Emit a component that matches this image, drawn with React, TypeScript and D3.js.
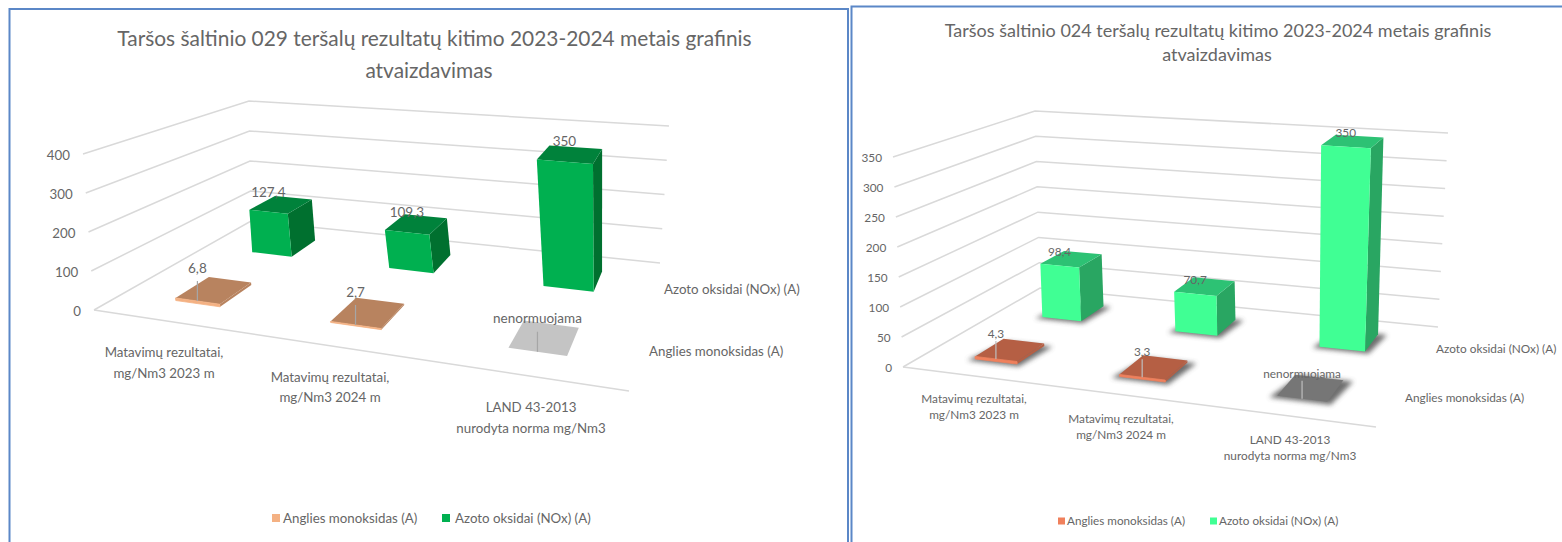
import React from "react";
import * as d3 from "d3";

const categories = ["cat2023", "cat2024", "catNorm"];
const seriesKeys = ["co", "nox"];

const leftCO = [6.8, 2.7, 0];
const leftNOx = [127.4, 109.3, 350];
const leftCOLabels = ["6,8", "2,7", "nenormuojama"];
const leftNOxLabels = ["127,4", "109,3", "350"];
const leftTicks = [0, 100, 200, 300, 400];

const rightCO = [4.3, 3.3, 0];
const rightNOx = [98.4, 70.7, 350];
const rightCOLabels = ["4,3", "3,3", "nenormuojama"];
const rightNOxLabels = ["98,4", "70,7", "350"];
const rightTicks = [0, 50, 100, 150, 200, 250, 300, 350];

const FONT = "Lato, 'Open Sans', sans-serif";
const TXT = "#666666";
const GRID = "#d9d9d9";

type P = [number, number];

function squareToQuad(p00: P, p10: P, p11: P, p01: P) {
  const [x0, y0] = p00, [x1, y1] = p10, [x2, y2] = p11, [x3, y3] = p01;
  const sx = x0 - x1 + x2 - x3, sy = y0 - y1 + y2 - y3;
  const dx1 = x1 - x2, dx2 = x3 - x2, dy1 = y1 - y2, dy2 = y3 - y2;
  const den = dx1 * dy2 - dx2 * dy1;
  const g = (sx * dy2 - dx2 * sy) / den, h = (dx1 * sy - sx * dy1) / den;
  const a = x1 - x0 + g * x1, b = x3 - x0 + h * x3, c = x0;
  const d = y1 - y0 + g * y1, e = y3 - y0 + h * y3, f = y0;
  return (u: number, v: number): P => {
    const w = g * u + h * v + 1;
    return [(a * u + b * v + c) / w, (d * u + e * v + f) / w];
  };
}

const line = d3.line();
const poly = (pts: P[]) => line(pts) + "Z";

interface Cfg {
  floor: P[]; // FL FR BR BL
  top: P[];
  uShift: number;
  co: number[]; nox: number[]; coLabels: string[]; noxLabels: string[];
  ticks: number[];
  colors: { coFront: string; coTop: string; grayTop: string; noxFront: string; noxTop: string; noxSide: string; leader: string };
  shadow: boolean;
  title: { lines: string[]; x: number[]; y: number[]; size: number };
  fontSize: number; dataSize: number; tickOffset: number; tickDy: number;
  noxLabelDy: number; coLabelDy: number; leaderUp: number;
  catLabels: { x: number; y: number[]; lines: string[] }[];
  serLabels: { x: number; y: number; text: string }[];
  legend: { sq: number; y: number; size: number; items: { x: number; tx: number; text: string; color: string }[] };
}

function Chart({ c }: { c: Cfg }) {
  const H0 = squareToQuad(c.floor[0], c.floor[1], c.floor[2], c.floor[3]);
  const H1 = squareToQuad(c.top[0], c.top[1], c.top[2], c.top[3]);
  const wy = d3.scaleLinear().domain(d3.extent(c.ticks) as [number, number]).range([0, 1]);
  const uS = d3.scaleBand<string>().domain(categories).range([c.uShift, 1 + c.uShift]).paddingInner(0.7).paddingOuter(0.35);
  const vS = d3.scaleBand<string>().domain(seriesKeys).range([0, 1]).paddingInner(0.6).paddingOuter(0.3);
  const pr = (u: number, v: number, val: number): P => {
    const a = H0(u, v), b = H1(u, v), t = wy(val);
    return [a[0] + (b[0] - a[0]) * t, a[1] + (b[1] - a[1]) * t];
  };
  const box = (cat: string, ser: string, val: number) => {
    const u0 = uS(cat)!, u1 = u0 + uS.bandwidth();
    const v0 = vS(ser)!, v1 = v0 + vS.bandwidth();
    return {
      front: [pr(u0, v0, 0), pr(u1, v0, 0), pr(u1, v0, val), pr(u0, v0, val)] as P[],
      side: [pr(u1, v0, 0), pr(u1, v1, 0), pr(u1, v1, val), pr(u1, v0, val)] as P[],
      top: [pr(u0, v0, val), pr(u1, v0, val), pr(u1, v1, val), pr(u0, v1, val)] as P[],
      shadow: [pr(u0 - 0.012, v0 - 0.02, 0), pr(u1 + 0.01, v0 - 0.02, 0), pr(u1 + 0.02, v1, 0), pr(u0 + 0.01, v1, 0)] as P[],
      anchor: pr((u0 + u1) / 2, v0, val),
    };
  };
  const fid = c.shadow ? "blurR" : "";
  return (
    <g fontFamily={FONT}>
      {c.shadow && (
        <defs>
          <filter id="blurR" x="-30%" y="-30%" width="160%" height="160%">
            <feGaussianBlur stdDeviation="2.6" />
          </filter>
        </defs>
      )}
      <text textAnchor="middle" fontSize={c.title.size} fill={TXT}>
        {c.title.lines.map((l, i) => (
          <tspan key={i} x={c.title.x[i]} y={c.title.y[i]}>{l}</tspan>
        ))}
      </text>
      {c.ticks.map((t) => (
        <g key={t}>
          <path d={line([pr(0, 0, t), pr(0, 1, t), pr(1, 1, t)])!} fill="none" stroke={GRID} strokeWidth={1.5} />
          <text x={pr(0, 0, t)[0] - c.tickOffset} y={pr(0, 0, t)[1] + c.tickDy} dy="0.35em" textAnchor="end" fontSize={c.fontSize} fill={TXT}>{t}</text>
        </g>
      ))}
      <path d={line([pr(0, 0, 0), pr(1, 0, 0)])!} fill="none" stroke={GRID} strokeWidth={1.5} />
      {c.shadow && seriesKeys.flatMap((s, si) =>
        categories.map((cat, i) => {
          const val = (si === 0 ? c.co : c.nox)[i];
          return <path key={s + cat} d={poly(box(cat, s, val).shadow)} fill="#4a4a4a" opacity={0.8} filter={`url(#${fid})`} />;
        })
      )}
      {categories.map((cat, i) => {
        const b = box(cat, "nox", c.nox[i]);
        return (
          <g key={cat}>
            <path d={poly(b.side)} fill={c.colors.noxSide} />
            <path d={poly(b.top)} fill={c.colors.noxTop} />
            <path d={poly(b.front)} fill={c.colors.noxFront} />
          </g>
        );
      })}
      {categories.map((cat, i) => {
        const b = box(cat, "co", c.co[i]);
        const gray = c.co[i] === 0;
        const tp = b.anchor;
        return (
          <g key={cat}>
            <path d={poly(b.top)} fill={gray ? c.colors.grayTop : c.colors.coTop} />
            {!gray && <path d={poly(b.side)} fill={c.colors.coTop} />}
            {!gray && <path d={poly(b.front)} fill={c.colors.coFront} stroke={c.colors.coFront} strokeWidth={0.8} />}
            <line x1={tp[0]} y1={tp[1]} x2={tp[0]} y2={tp[1] - c.leaderUp} stroke={c.colors.leader} strokeWidth={1.2} />
          </g>
        );
      })}
      {categories.map((cat, i) => {
        const a = box(cat, "nox", c.nox[i]).anchor;
        return <text key={cat} x={a[0]} y={a[1] + c.noxLabelDy} dy="0.35em" textAnchor="middle" fontSize={c.dataSize} fill={TXT}>{c.noxLabels[i]}</text>;
      })}
      {categories.map((cat, i) => {
        const a = box(cat, "co", c.co[i]).anchor;
        return <text key={cat} x={a[0]} y={a[1] + c.coLabelDy} dy="0.35em" textAnchor="middle" fontSize={c.dataSize} fill={TXT}>{c.coLabels[i]}</text>;
      })}
      {c.catLabels.map((l, i) => (
        <text key={i} textAnchor="middle" fontSize={c.fontSize} fill={TXT}>
          {l.lines.map((t, j) => <tspan key={j} x={l.x} y={l.y[j]} dy="0.35em">{t}</tspan>)}
        </text>
      ))}
      {c.serLabels.map((l, i) => (
        <text key={i} x={l.x} y={l.y} dy="0.35em" fontSize={c.fontSize} fill={TXT}>{l.text}</text>
      ))}
      {c.legend.items.map((it, i) => (
        <g key={i}>
          <rect x={it.x} y={c.legend.y - c.legend.sq / 2} width={c.legend.sq} height={c.legend.sq} fill={it.color} />
          <text x={it.tx} y={c.legend.y} dy="0.35em" fontSize={c.legend.size} fill={TXT}>{it.text}</text>
        </g>
      ))}
    </g>
  );
}

const COL = ["Matavimų rezultatai,", "mg/Nm3 2023 m"];
const COL2 = ["Matavimų rezultatai,", "mg/Nm3 2024 m"];
const COL3 = ["LAND 43-2013", "nurodyta norma mg/Nm3"];
const NOX = "Azoto oksidai (NOx) (A)";
const CO = "Anglies monoksidas (A)";

const leftCfg: Cfg = {
  floor: [[94, 310], [629, 391], [660, 263], [251, 221]],
  top: [[83, 154], [640, 222], [669, 126], [249, 101]],
  uShift: 0.006,
  co: leftCO, nox: leftNOx, coLabels: leftCOLabels, noxLabels: leftNOxLabels, ticks: leftTicks,
  colors: { coFront: "#f4b183", coTop: "#b8835f", grayTop: "#c4c4c4", noxFront: "#00b050", noxTop: "#00823b", noxSide: "#00702f", leader: "#a6a6a6" },
  shadow: false,
  title: { lines: ["Taršos šaltinio 029 teršalų rezultatų kitimo 2023-2024 metais grafinis", "atvaizdavimas"], x: [434.5, 429], y: [46, 78], size: 20.9 },
  fontSize: 13.3, dataSize: 13.5, tickOffset: 13, tickDy: 1.5,
  noxLabelDy: -20, coLabelDy: -33, leaderUp: 20,
  catLabels: [
    { x: 164, y: [352, 373], lines: COL },
    { x: 330, y: [377, 397], lines: COL2 },
    { x: 531, y: [407, 428], lines: COL3 },
  ],
  serLabels: [{ x: 664, y: 289, text: NOX }, { x: 649, y: 351, text: CO }],
  legend: { sq: 8, y: 518, size: 13.3, items: [
    { x: 272, tx: 283, text: CO, color: "#f4b183" },
    { x: 442, tx: 455, text: NOX, color: "#00b050" },
  ] },
};

const rightCfg: Cfg = {
  floor: [[903, 367], [1376, 427], [1438, 327], [1040, 288]],
  top: [[893, 157], [1390, 197], [1448, 133], [1035, 111]],
  uShift: 0.001,
  co: rightCO, nox: rightNOx, coLabels: rightCOLabels, noxLabels: rightNOxLabels, ticks: rightTicks,
  colors: { coFront: "#f0805c", coTop: "#b55f44", grayTop: "#767676", noxFront: "#40ff94", noxTop: "#2dc274", noxSide: "#29a662", leader: "#bfbfbf" },
  shadow: true,
  title: { lines: ["Taršos šaltinio 024 teršalų rezultatų kitimo 2023-2024 metais grafinis", "atvaizdavimas"], x: [1218, 1217], y: [37, 61], size: 18 },
  fontSize: 11.8, dataSize: 11.8, tickOffset: 11, tickDy: 0.5,
  noxLabelDy: -14, coLabelDy: -25, leaderUp: 18,
  catLabels: [
    { x: 974, y: [399, 415], lines: COL },
    { x: 1121, y: [419, 435], lines: COL2 },
    { x: 1290, y: [440, 456], lines: COL3 },
  ],
  serLabels: [{ x: 1436, y: 349, text: NOX }, { x: 1405, y: 398, text: CO }],
  legend: { sq: 7, y: 521, size: 11.7, items: [
    { x: 1058, tx: 1067, text: CO, color: "#f0805c" },
    { x: 1210, tx: 1219, text: NOX, color: "#40ff94" },
  ] },
};

export default function App() {
  return (
    <svg width={1562} height={542} style={{ position: "absolute", left: 0, top: 0, background: "#fff" }}>
      <path d="M9.5,542V9H848V542" fill="none" stroke="#5b87c7" strokeWidth={2} />
      <path d="M851.5,542V6.5H1562" fill="none" stroke="#5b87c7" strokeWidth={2} />
      <Chart c={leftCfg} />
      <Chart c={rightCfg} />
    </svg>
  );
}
